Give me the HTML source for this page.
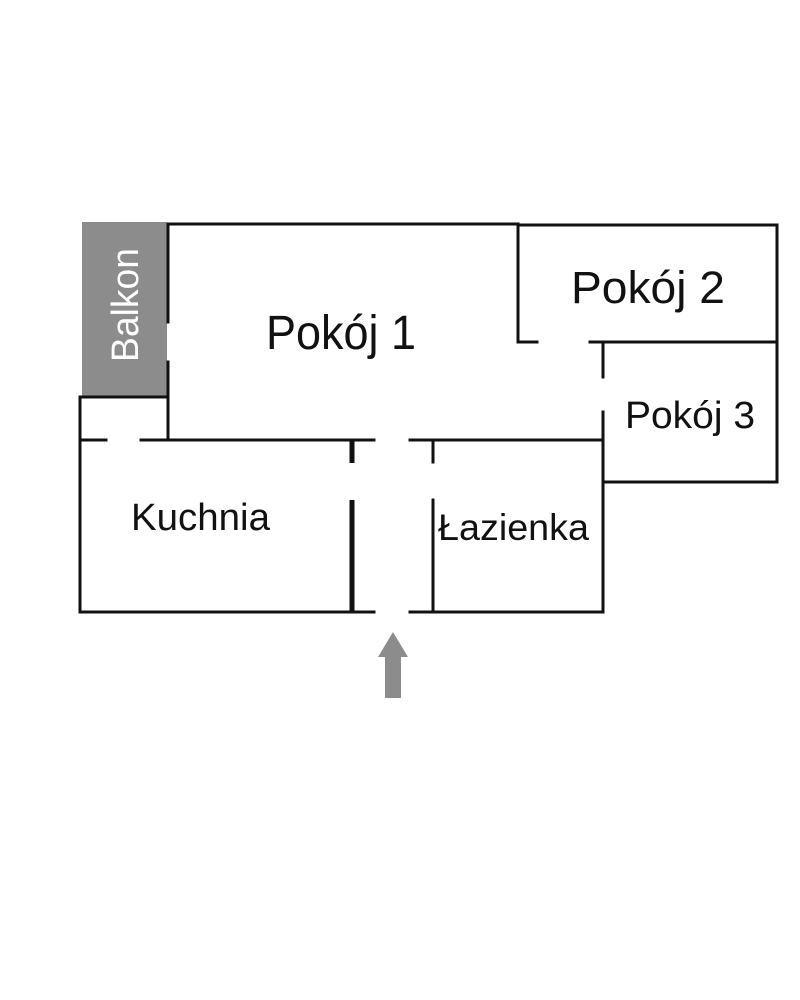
<!DOCTYPE html>
<html><head><meta charset="utf-8"><style>
html,body{margin:0;padding:0;background:#fff;}
svg{display:block;}
text{font-family:"Liberation Sans",sans-serif;fill:#111;}
</style></head><body>
<svg width="800" height="1000" viewBox="0 0 800 1000" xmlns="http://www.w3.org/2000/svg">
<rect x="82" y="222" width="85" height="174" fill="#8c8c8c"/>
<text x="0" y="0" transform="translate(138,362) rotate(-90)" font-size="38" textLength="114" lengthAdjust="spacingAndGlyphs" style="fill:#fff">Balkon</text>
<g stroke="#111" stroke-width="3" fill="none" stroke-linecap="square">
<line x1="168" y1="224" x2="518" y2="224"/>
<line x1="518" y1="225" x2="777" y2="225"/>
<line x1="777" y1="225" x2="777" y2="482"/>
<line x1="518" y1="224" x2="518" y2="342"/>
<line x1="518" y1="342" x2="537" y2="342"/>
<line x1="590" y1="342" x2="777" y2="342"/>
<line x1="603" y1="342" x2="603" y2="377"/>
<line x1="603" y1="412" x2="603" y2="612"/>
<line x1="603" y1="482" x2="777" y2="482"/>
<line x1="168" y1="224" x2="168" y2="322"/>
<line x1="168" y1="362" x2="168" y2="440"/>
<line x1="80" y1="397" x2="168" y2="397"/>
<line x1="80" y1="397" x2="80" y2="612"/>
<line x1="80" y1="440" x2="106" y2="440"/>
<line x1="141" y1="440" x2="374" y2="440"/>
<line x1="410" y1="440" x2="603" y2="440"/>
<line x1="80" y1="612" x2="374" y2="612"/>
<line x1="410" y1="612" x2="603" y2="612"/>
<line x1="433" y1="440" x2="433" y2="462"/>
<line x1="433" y1="500" x2="433" y2="612"/>
</g>
<g stroke="#111" stroke-width="5" stroke-linecap="butt">
<line x1="352" y1="440" x2="352" y2="463"/>
<line x1="352" y1="500" x2="352" y2="613"/>
</g>
<polygon points="393,632 408,657 401,657 401,698 385,698 385,657 378,657" fill="#8c8c8c"/>
<text x="266" y="349" font-size="48" textLength="150" lengthAdjust="spacingAndGlyphs">Pokój 1</text>
<text x="571" y="303" font-size="45" textLength="154" lengthAdjust="spacingAndGlyphs">Pokój 2</text>
<text x="625" y="428" font-size="38" textLength="130" lengthAdjust="spacingAndGlyphs">Pokój 3</text>
<text x="131" y="530" font-size="38" textLength="139" lengthAdjust="spacingAndGlyphs">Kuchnia</text>
<text x="438" y="540" font-size="37" textLength="151" lengthAdjust="spacingAndGlyphs">Łazienka</text>
</svg>
</body></html>
